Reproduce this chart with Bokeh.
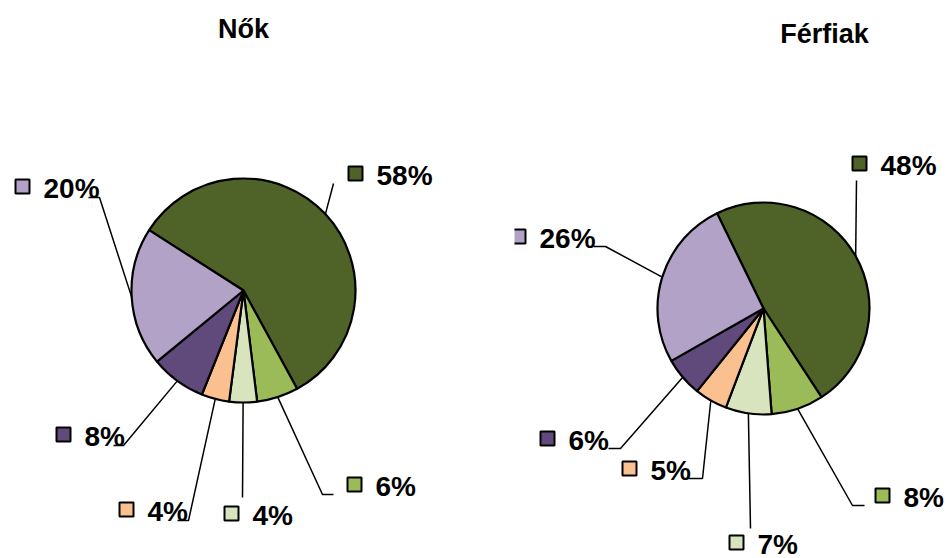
import numpy as np
from bokeh.plotting import figure
from bokeh.layouts import row
from bokeh.models import Range1d, ColumnDataSource
from bokeh.core.properties import value
from bokeh.embed import file_html
from bokeh.resources import INLINE

# ---- data ----
titles = ["Nők", "Férfiak"]
women = [58, 6, 4, 4, 8, 20]
men = [48, 8, 7, 5, 6, 26]
colors = ["#4F6228", "#9BBB59", "#D7E4BD", "#FAC090", "#604A7B", "#B3A2C7"]

# ---- layout (pixel coords, y down) ----
W, H = 947, 558
FONT = value("Liberation Sans")

panels = [
    dict(values=women, title=titles[0], x0=0, x1=514, cx=243, cy=290, r=112, start=147.4,
         title_pos=(243, 28),
         squares=[(355, 173), (354, 484), (231, 513), (126, 509), (63, 434), (22, 186)],
         elbows=[[(333, 183)], [(322, 494), (333, 494)], [(242, 497)],
                 [(188, 520), (177, 520)], [(123, 445), (113, 445)], [(99, 197), (88, 197)]]),
    dict(values=men, title=titles[1], x0=514, x1=947, cx=763, cy=308, r=106, start=116.0,
         title_pos=(824, 33),
         squares=[(859, 163), (882, 495), (736, 542), (629, 468), (547, 438), (518, 236)],
         elbows=[[(856, 180)], [(852, 505), (864, 505)], [(750, 528)],
                 [(702, 478), (688, 478)], [(620, 448), (608, 448)], [(605, 246), (593, 246)]]),
]


def make_panel(pn):
    w = pn["x1"] - pn["x0"]
    p = figure(width=w, height=H, x_range=Range1d(pn["x0"], pn["x1"]), y_range=Range1d(0, H),
               output_backend="svg", toolbar_location=None, min_border=0,
               x_axis_location=None, y_axis_location=None)
    p.grid.visible = False
    p.outline_line_color = None
    p.background_fill_color = "white"
    p.border_fill_color = "white"

    vals = np.array(pn["values"], dtype=float)
    frac = np.concatenate([[0], np.cumsum(vals)]) / vals.sum()
    s0 = np.deg2rad(pn["start"])
    starts = s0 - frac[:-1] * 2 * np.pi
    ends = s0 - frac[1:] * 2 * np.pi
    mids = (starts + ends) / 2
    cx, cy = pn["cx"], H - pn["cy"]

    src = ColumnDataSource(dict(start=starts, end=ends, color=colors,
                                label=[f"{int(v)}%" for v in vals]))
    p.wedge(x=cx, y=cy, radius=pn["r"], start_angle="start", end_angle="end",
            direction="clock", fill_color="color", line_color="black", line_width=2.2,
            source=src)

    # leader lines
    xs, ys = [], []
    for m, el in zip(mids, pn["elbows"]):
        px = [cx + pn["r"] * np.cos(m)] + [e[0] for e in el]
        py = [cy + pn["r"] * np.sin(m)] + [H - e[1] for e in el]
        xs.append(px)
        ys.append(py)
    p.multi_line(xs, ys, line_color="black", line_width=1.5)

    # legend-key squares and labels
    sqx = [s[0] for s in pn["squares"]]
    sqy = [H - s[1] for s in pn["squares"]]
    p.scatter(x=sqx, y=sqy, marker="square", size=14, fill_color=colors,
              line_color="black", line_width=2)
    lsrc = ColumnDataSource(dict(x=[x + 21 for x in sqx], y=[y - 1.5 for y in sqy],
                                 t=src.data["label"]))
    p.text(x="x", y="y", text="t", source=lsrc, text_font=FONT, text_font_style="bold",
           text_font_size="28px", text_align="left", text_baseline="middle",
           text_color="black")

    # title
    p.text(x=[pn["title_pos"][0]], y=[H - pn["title_pos"][1]], text=[pn["title"]],
           text_font=FONT, text_font_style="bold", text_font_size="27px",
           text_align="center", text_baseline="middle", text_color="black")
    return p


layout = row(make_panel(panels[0]), make_panel(panels[1]), spacing=0)
open("out.html", "w").write(file_html(layout, INLINE))
